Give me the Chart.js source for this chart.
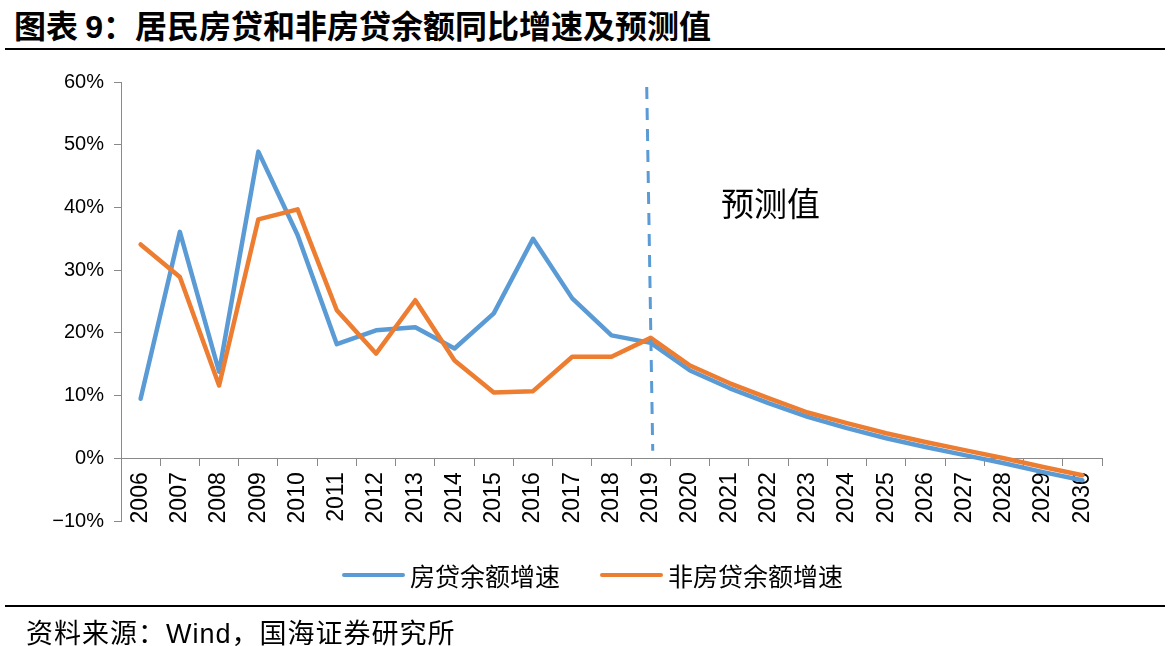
<!DOCTYPE html>
<html>
<head>
<meta charset="utf-8">
<script src="https://cdn.jsdelivr.net/npm/chart.js@4/dist/chart.umd.min.js"></script>
<style>
  html, body { margin: 0; padding: 0; background: #fff; }
  body { width: 1169px; height: 646px; position: relative; overflow: hidden; font-family: "Noto Sans CJK SC", "Liberation Sans", sans-serif; }
  #c { position: absolute; left: 0; top: 0; }
  .title { position: absolute; left: 14px; top: 3px; font-size: 32px; font-weight: 700; color: #000; white-space: nowrap; line-height: 42px; }
  .title .num { font-family: "Liberation Sans", Arial, sans-serif; }
  .rule { position: absolute; left: 5px; width: 1160px; height: 2px; background: #000; }
  .footer { position: absolute; left: 26px; top: 614px; font-size: 27px; letter-spacing: 1px; color: #000; white-space: nowrap; line-height: 36px; }
  .footer .lat { font-family: "Liberation Sans", Arial, sans-serif; }
  .legend { position: absolute; top: 557px; height: 36px; display: flex; align-items: center; font-size: 25px; color: #000; white-space: nowrap; }
  .legend .sw { width: 63px; height: 4px; border-radius: 2px; margin-right: 5px; }
</style>
</head>
<body>
<div class="title">图表 <span class="num">9</span>：居民房贷和非房贷余额同比增速及预测值</div>
<div class="rule" style="top:48px"></div>
<canvas id="c" width="1169" height="646"></canvas>
<div id="legend"></div>
<div class="rule" style="top:605px"></div>
<div class="footer">资料来源：<span class="lat">Wind</span>，国海证券研究所</div>
<script>
const categories = ["2006","2007","2008","2009","2010","2011","2012","2013","2014","2015","2016","2017","2018","2019","2020","2021","2022","2023","2024","2025","2026","2027","2028","2029","2030"];
const seriesNames = ["房贷余额增速", "非房贷余额增速"];
const mortgageGrowth = [9.5, 36.1, 13.8, 48.9, 35.6, 18.2, 20.4, 20.9, 17.5, 23.1, 35.0, 25.5, 19.6, 18.4, 14.0, 11.2, 8.8, 6.6, 4.8, 3.2, 1.8, 0.5, -0.8, -2.2, -3.5];
const nonMortgageGrowth = [34.1, 28.9, 11.6, 38.1, 39.7, 23.6, 16.7, 25.2, 15.6, 10.5, 10.7, 16.2, 16.2, 19.2, 14.8, 12.0, 9.6, 7.3, 5.6, 4.0, 2.6, 1.3, 0.0, -1.4, -2.7];
const yTicks = [-10, 0, 10, 20, 30, 40, 50, 60];
const forecastStart = "2019";
const forecastLabel = "预测值";
const colors = ["#5B9BD5", "#ED7D31"];

// HTML legend
const legendPos = [342, 600];
const lg = document.getElementById('legend');
seriesNames.forEach((n, i) => {
  const d = document.createElement('div');
  d.className = 'legend';
  d.style.left = legendPos[i] + 'px';
  d.innerHTML = '<div class="sw" style="background:' + colors[i] + '"></div><span>' + n + '</span>';
  lg.appendChild(d);
});

const forecastPlugin = {
  id: 'forecast',
  afterDatasetsDraw(chart) {
    const {ctx, scales: {x, y}} = chart;
    const xi = categories.indexOf(forecastStart);
    const xp = x.getPixelForValue(xi);
    ctx.save();
    ctx.strokeStyle = colors[0];
    ctx.lineWidth = 3;
    ctx.setLineDash([12, 9]);
    ctx.beginPath();
    ctx.moveTo(xp - 4, y.getPixelForValue(59.2));
    ctx.lineTo(xp + 2, y.getPixelForValue(1.2));
    ctx.stroke();
    ctx.setLineDash([]);
    ctx.fillStyle = '#000';
    ctx.font = '33px "Noto Sans CJK SC"';
    ctx.textAlign = 'center';
    ctx.textBaseline = 'middle';
    ctx.fillText(forecastLabel, x.getPixelForValue(xi + 3.05), y.getPixelForValue(40.6));
    ctx.restore();
  }
};

new Chart(document.getElementById('c'), {
  type: 'line',
  data: {
    labels: categories,
    datasets: [
      { label: seriesNames[0], data: mortgageGrowth, borderColor: colors[0], backgroundColor: colors[0], borderWidth: 4.5, pointRadius: 0, tension: 0, order: 1, borderJoinStyle: 'round', borderCapStyle: 'round' },
      { label: seriesNames[1], data: nonMortgageGrowth, borderColor: colors[1], backgroundColor: colors[1], borderWidth: 4.5, pointRadius: 0, tension: 0, order: 0, borderJoinStyle: 'round', borderCapStyle: 'round' }
    ]
  },
  options: {
    responsive: false,
    animation: false,
    devicePixelRatio: 1,
    layout: { padding: { top: 82, left: 0, right: 67, bottom: 125 } },
    plugins: { legend: { display: false }, tooltip: { enabled: false } },
    scales: {
      x: {
        position: { y: 0 },
        offset: true,
        grid: { offset: true, drawOnChartArea: false, drawTicks: true, tickLength: 7, color: '#898989' },
        border: { color: '#898989', width: 1 },
        ticks: { color: '#000', font: { family: '"Liberation Sans", Arial', size: 23 }, minRotation: 90, maxRotation: 90, padding: 7, autoSkip: false }
      },
      y: {
        min: -10, max: 60,
        afterFit: (s) => { s.width = 121; },
        afterBuildTicks: (s) => { s.ticks = yTicks.map(v => ({ value: v })); },
        grid: { drawOnChartArea: false, drawTicks: true, tickLength: 7, color: '#898989' },
        border: { color: '#898989', width: 1 },
        ticks: { color: '#000', font: { family: '"Liberation Sans", Arial', size: 20 }, padding: 10, callback: (v) => (v < 0 ? '\u2212' + Math.abs(v) : v) + '%' }
      }
    }
  },
  plugins: [forecastPlugin]
});
</script>
</body>
</html>
